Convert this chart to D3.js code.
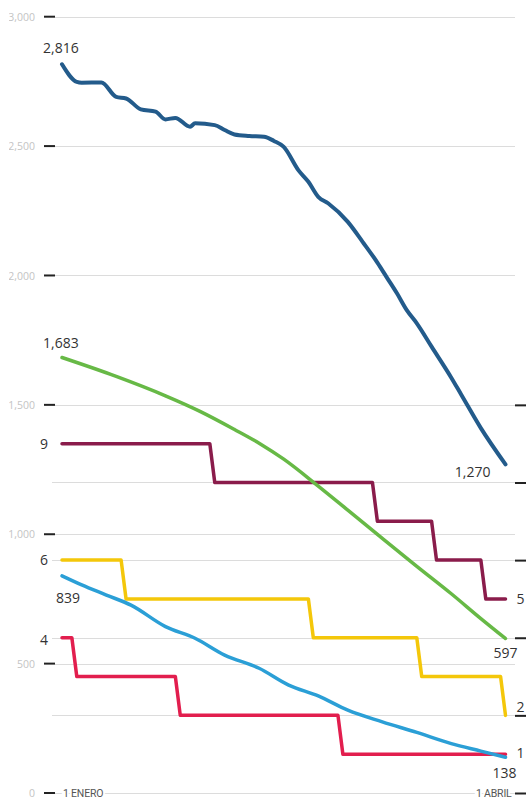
<!DOCTYPE html>
<html>
<head>
<meta charset="utf-8">
<script src="https://cdn.jsdelivr.net/npm/d3@7"></script>
<style>
  html, body { margin: 0; padding: 0; background: #fff; }
  svg { display: block; }
</style>
</head>
<body>
<div id="chart"></div>
<script>
// ---- data (day offsets from 1 Jan, 90 = 1 Apr) ----
const leftTicks = [0, 500, 1000, 1500, 2000, 2500, 3000];
const rightTicks = [0, 2, 4, 6, 8, 10];
const xLabels = ["1 ENERO", "1 ABRIL"];

const darkBlueDays = [0,3,4,8,11,13,16,19,21,23,26,27,31,33,35,38,41,43,45,48,50,52,54,58,61,64,66,68,70,72,75,79,81,85,90];
const darkBlueValues = [2816,2748,2745,2746,2690,2684,2642,2633,2603,2609,2575,2588,2581,2562,2545,2539,2536,2520,2497,2406,2362,2304,2279,2207,2130,2050,1990,1930,1865,1815,1725,1605,1540,1410,1270];

const greenDays = [0,11,21,28,35,40,45,52,58,65,72,79,85,90];
const greenValues = [1683,1610,1535,1475,1405,1352,1290,1186,1093,984,876,770,674,597];

const lightBlueDays = [0,4,9,14,21,27,33,40,46,52,58,65,72,79,85,90];
const lightBlueValues = [839,804,765,726,643,598,533,482,417,375,320,275,234,191,162,138];

const purpleDays = [0,30,31,63,64,75,76,85,86,90];
const purpleValues = [9,9,8,8,7,7,6,6,5,5];

const yellowDays = [0,12,13,50,51,72,73,89,90];
const yellowValues = [6,6,5,5,4,4,3,3,2];

const redDays = [0,2,3,23,24,56,57,90];
const redValues = [4,4,3,3,2,2,1,1];

// ---- drawing ----
const W = 532, H = 801;
const svg = d3.select("#chart").append("svg").attr("width", W).attr("height", H);

const x = d3.scaleLinear().domain([0, 90]).range([62, 505.5]);
const y = d3.scaleLinear().domain([0, 3000]).range([793, 16.7]);
const yR = d3.scaleLinear().domain([0, 20]).range([793, 16.7]);

const gridColor = "#dcdcdc";

// right-axis gridlines
svg.append("g").selectAll("line").data(rightTicks.filter(d => d > 0)).join("line")
  .attr("x1", 52).attr("x2", 515)
  .attr("y1", d => Math.round(yR(d)) + 0.5).attr("y2", d => Math.round(yR(d)) + 0.5)
  .attr("stroke", gridColor).attr("stroke-width", 1);

// left-axis gridlines
svg.append("g").selectAll("line").data(leftTicks).join("line")
  .attr("x1", 55).attr("x2", 515)
  .attr("y1", d => Math.round(y(d)) + 0.5).attr("y2", d => Math.round(y(d)) + 0.5)
  .attr("stroke", gridColor).attr("stroke-width", 1);

// left axis (labels)
svg.append("clipPath").attr("id", "lclip").append("rect")
  .attr("x", 9).attr("y", 0).attr("width", 60).attr("height", H);
const leftAxis = d3.axisLeft(y).tickValues(leftTicks).tickSize(0).tickPadding(0)
  .tickFormat(d3.format(","));
const clipG = svg.append("g").attr("clip-path", "url(#lclip)");
const gl = clipG.append("g").attr("transform", "translate(35,0)").call(leftAxis);
gl.select(".domain").remove();
gl.selectAll("text").attr("font-family", "Open Sans, sans-serif").attr("font-size", 10.5)
  .attr("fill", "#c4c4c4").attr("x", 0).attr("dy", "0.35em");
// left tick marks
svg.append("g").selectAll("line").data(leftTicks).join("line")
  .attr("x1", 44).attr("x2", 55)
  .attr("y1", d => y(d)).attr("y2", d => y(d))
  .attr("stroke", "#222").attr("stroke-width", 2);

// right axis ticks
const rightAxis = d3.axisRight(yR).tickValues(rightTicks).tickSize(11).tickFormat("");
const gr = svg.append("g").attr("transform", "translate(515,0)").call(rightAxis);
gr.select(".domain").remove();
gr.selectAll("line").attr("stroke", "#222").attr("stroke-width", 2);

// x axis labels
const xLab = svg.append("g");
xLab.append("text").attr("x", x(0) + 1).attr("y", y(0)).attr("dy", "0.35em")
  .attr("text-anchor", "start").text(xLabels[0]);
xLab.append("text").attr("x", x(90) + 6).attr("y", y(0)).attr("dy", "0.35em")
  .attr("text-anchor", "end").text(xLabels[1]);
xLab.selectAll("text").attr("font-family", "Roboto, sans-serif").attr("font-size", 10.5)
  .attr("fill", "#555").attr("stroke", "#fff").attr("stroke-width", 4)
  .attr("paint-order", "stroke").attr("letter-spacing", "-0.2");

// lines
const mk = (days, vals) => days.map((d, i) => ({ d, v: vals[i] }));
const stepLine = d3.line().x(p => x(p.d)).y(p => yR(p.v)).curve(d3.curveLinear);
const smoothLine = d3.line().x(p => x(p.d)).y(p => y(p.v)).curve(d3.curveMonotoneX);

const series = [
  { data: mk(purpleDays, purpleValues), gen: stepLine, color: "#8a1c4b", w: 3.5 },
  { data: mk(yellowDays, yellowValues), gen: stepLine, color: "#f4c70a", w: 3.5 },
  { data: mk(redDays, redValues), gen: stepLine, color: "#e21e4e", w: 3.5 },
  { data: mk(greenDays, greenValues), gen: smoothLine, color: "#67b946", w: 3.5 },
  { data: mk(lightBlueDays, lightBlueValues), gen: smoothLine, color: "#2b9fd6", w: 3.5 },
  { data: mk(darkBlueDays, darkBlueValues), gen: smoothLine, color: "#235b8b", w: 4 }
];
svg.append("g").selectAll("path").data(series).join("path")
  .attr("d", s => s.gen(s.data))
  .attr("fill", "none").attr("stroke", s => s.color).attr("stroke-width", s => s.w)
  .attr("stroke-linejoin", "round").attr("stroke-linecap", "round");

// value labels
const labels = [
  { t: "2,816", x: x(0) - 19, y: y(2816) - 11, a: "start" },
  { t: "1,683", x: x(0) - 19, y: y(1683) - 9, a: "start" },
  { t: "9", x: x(0) - 14, y: yR(9) + 5, a: "end" },
  { t: "6", x: x(0) - 14, y: yR(6) + 5, a: "end" },
  { t: "839", x: x(0) + 18, y: y(839) + 27, a: "end" },
  { t: "4", x: x(0) - 14, y: yR(4) + 7, a: "end" },
  { t: "1,270", x: x(90) - 15, y: y(1270) + 13, a: "end" },
  { t: "5", x: x(90) + 11, y: yR(5) + 5, a: "start" },
  { t: "597", x: x(90) + 12, y: y(597) + 19, a: "end" },
  { t: "2", x: x(90) + 11, y: yR(2) - 3, a: "start" },
  { t: "1", x: x(90) + 11, y: yR(1) + 4, a: "start" },
  { t: "138", x: x(90) + 11, y: y(138) + 21, a: "end" }
];
svg.append("g").selectAll("text").data(labels).join("text")
  .attr("x", d => d.x).attr("y", d => d.y).attr("text-anchor", d => d.a)
  .attr("font-family", "Open Sans, sans-serif").attr("font-size", 14)
  .attr("fill", "#333").text(d => d.t);
</script>
</body>
</html>
